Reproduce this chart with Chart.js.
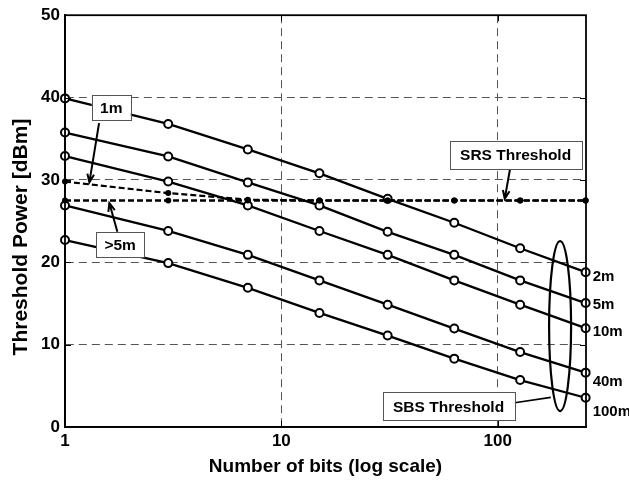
<!DOCTYPE html>
<html>
<head>
<meta charset="utf-8">
<style>
  html, body { margin: 0; padding: 0; background: #fff; }
  #wrap { width: 629px; height: 480px; position: relative; }
</style>
<script src="https://cdn.jsdelivr.net/npm/chart.js@4.4.1/dist/chart.umd.min.js"></script>
</head>
<body>
<div id="wrap"><canvas id="c"></canvas></div>
<script>
// Number of bits in the word (x axis, log scale)
const bits = [1, 3, 7, 15, 31, 63, 127, 255];

// SBS threshold power [dBm] for each fibre length
const sbs2m   = [39.9, 36.8, 33.7, 30.8, 27.7, 24.8, 21.7, 18.8];
const sbs5m   = [35.75, 32.85, 29.7, 26.9, 23.7, 20.9, 17.8, 15.05];
const sbs10m  = [32.9, 29.8, 26.9, 23.8, 20.9, 17.8, 14.85, 12.0];
const sbs40m  = [26.9, 23.8, 20.9, 17.8, 14.85, 11.95, 9.1, 6.6];
const sbs100m = [22.7, 19.9, 16.9, 13.85, 11.1, 8.3, 5.7, 3.55];

// SRS threshold power [dBm]
const srs1m   = [29.8, 28.4, 27.6, 27.5, 27.5, 27.5, 27.5, 27.5];
const srs5m   = [27.5, 27.5, 27.5, 27.5, 27.5, 27.5, 27.5, 27.5];

const sbsNames = ['2m', '5m', '10m', '40m', '100m'];
const xTicks = [1, 10, 100];
const yTicks = [0, 10, 20, 30, 40, 50];

const FONT = "'Liberation Sans', Arial, Helvetica, sans-serif";
const pts = ys => bits.map((b, i) => ({ x: b, y: ys[i] }));

const sbsStyle = {
  borderColor: '#000', borderWidth: 2.3, pointRadius: 4, pointHoverRadius: 4,
  pointBackgroundColor: '#fff', pointBorderColor: '#000', pointBorderWidth: 2,
  tension: 0, clip: false, fill: false
};
const srsStyle = {
  borderColor: '#000', borderWidth: 2.6, borderDash: [6, 3], pointRadius: 3,
  pointHoverRadius: 3, pointBackgroundColor: '#000', pointBorderColor: '#000',
  pointBorderWidth: 0, tension: 0, clip: false, fill: false
};

const datasets = [
  Object.assign({ label: '1m SRS', data: pts(srs1m) }, srsStyle, { borderWidth: 2.2 }),
  Object.assign({ label: '>5m SRS', data: pts(srs5m) }, srsStyle),
  ...[sbs2m, sbs5m, sbs10m, sbs40m, sbs100m].map((ys, i) =>
    Object.assign({ label: sbsNames[i], data: pts(ys) }, sbsStyle))
];

// Frame, inward tick marks, axis titles, callouts and length labels
const decor = {
  id: 'decor',
  afterDatasetsDraw(chart) {
    const { ctx, chartArea: a, scales: { x, y } } = chart;
    const px = v => x.getPixelForValue(v);
    const py = v => y.getPixelForValue(v);
    ctx.save();

    // inward ticks on all four sides
    ctx.strokeStyle = '#000'; ctx.lineWidth = 1; ctx.setLineDash([]);
    ctx.beginPath();
    xTicks.forEach(v => {
      const X = Math.round(px(v)) + 0.5;
      if (X <= a.left + 1 || X >= a.right - 1) return;
      ctx.moveTo(X, a.bottom); ctx.lineTo(X, a.bottom - 6);
      ctx.moveTo(X, a.top); ctx.lineTo(X, a.top + 6);
    });
    yTicks.forEach(v => {
      const Y = Math.round(py(v)) + 0.5;
      if (Y <= a.top + 1 || Y >= a.bottom - 1) return;
      ctx.moveTo(a.left, Y); ctx.lineTo(a.left + 6, Y);
      ctx.moveTo(a.right, Y); ctx.lineTo(a.right - 6, Y);
    });
    ctx.stroke();

    // plot frame
    ctx.lineWidth = 1.8;
    ctx.strokeRect(a.left, a.top, a.right - a.left, a.bottom - a.top);

    // callout helpers
    const box = (xv, yv, w, h, text) => {
      const cx = px(xv), cy = py(yv);
      ctx.fillStyle = '#fff';
      ctx.fillRect(cx - w / 2, cy - h / 2, w, h);
      ctx.strokeStyle = '#555'; ctx.lineWidth = 1;
      ctx.strokeRect(Math.round(cx - w / 2) + 0.5, Math.round(cy - h / 2) + 0.5, w, h);
      ctx.fillStyle = '#000';
      ctx.font = `bold 15.5px ${FONT}`;
      ctx.textAlign = 'center'; ctx.textBaseline = 'middle';
      ctx.fillText(text, cx, cy + 1);
    };
    const arrow = (x1, y1, x2, y2) => {
      const X1 = px(x1), Y1 = py(y1), X2 = px(x2), Y2 = py(y2);
      const ang = Math.atan2(Y2 - Y1, X2 - X1), L = 9, sp = 0.38;
      ctx.strokeStyle = '#000'; ctx.lineWidth = 2;
      ctx.beginPath();
      ctx.moveTo(X1, Y1); ctx.lineTo(X2, Y2);
      ctx.moveTo(X2 - L * Math.cos(ang - sp), Y2 - L * Math.sin(ang - sp));
      ctx.lineTo(X2, Y2);
      ctx.lineTo(X2 - L * Math.cos(ang + sp), Y2 - L * Math.sin(ang + sp));
      ctx.stroke();
    };

    // "1m" and ">5m" SRS callouts
    arrow(1.437, 36.9, 1.296, 29.7);
    box(1.636, 38.8, 39, 25, '1m');
    arrow(1.746, 23.7, 1.603, 27.2);
    box(1.798, 22.1, 48, 25, '>5m');

    // SRS threshold callout
    arrow(114, 31.3, 107.8, 27.7);
    box(121, 33.0, 132, 28, 'SRS Threshold');

    // SBS threshold ellipse and callout
    ctx.strokeStyle = '#000'; ctx.lineWidth = 2.2;
    ctx.beginPath();
    ctx.ellipse(px(194.3), py(12.26), 11, 85, 0, 0, Math.PI * 2);
    ctx.stroke();
    ctx.lineWidth = 1.6;
    ctx.beginPath();
    ctx.moveTo(px(119.9), py(2.95)); ctx.lineTo(px(176), py(3.6));
    ctx.stroke();
    box(59.3, 2.52, 132, 28, 'SBS Threshold');

    // fibre length labels beside the last SBS points
    const last = bits.length - 1;
    const offs = [5, 2.3, 3.3, 9, 14];
    [sbs2m, sbs5m, sbs10m, sbs40m, sbs100m].forEach((ys, i) => {
      ctx.fillStyle = '#000';
      ctx.font = `bold 15px ${FONT}`;
      ctx.textAlign = 'left'; ctx.textBaseline = 'middle';
      ctx.fillText(sbsNames[i], px(bits[last]) + 7, py(ys[last]) + offs[i]);
    });

    // axis titles
    ctx.fillStyle = '#000';
    ctx.textAlign = 'center'; ctx.textBaseline = 'middle';
    ctx.font = `bold 19px ${FONT}`;
    ctx.fillText('Number of bits (log scale)', (a.left + a.right) / 2, 466.5);
    ctx.save();
    ctx.translate(21, 237);
    ctx.rotate(-Math.PI / 2);
    ctx.font = `bold 21px ${FONT}`;
    ctx.fillText('Threshold Power [dBm]', 0, 0);
    ctx.restore();

    ctx.restore();
  }
};

new Chart(document.getElementById('c'), {
  type: 'line',
  data: { datasets },
  plugins: [decor],
  options: {
    responsive: true,
    maintainAspectRatio: false,
    animation: false,
    events: [],
    layout: { padding: { left: 0, right: 43, top: 14, bottom: 0 } },
    plugins: { legend: { display: false }, tooltip: { enabled: false }, title: { display: false } },
    scales: {
      x: {
        type: 'logarithmic', min: 1, max: 256,
        afterBuildTicks: s => { s.ticks = xTicks.map(v => ({ value: v })); },
        afterFit: s => { s.height = 53; },
        ticks: {
          autoSkip: false, maxRotation: 0, padding: 4, color: '#000',
          font: { family: FONT, size: 17, weight: 'bold' },
          callback: v => String(v)
        },
        grid: {
          drawTicks: false, lineWidth: 1,
          color: c => (c.tick && (c.tick.value === 1)) ? 'rgba(0,0,0,0)' : '#555'
        },
        border: { display: true, color: '#000', width: 1.8, dash: [8, 5] }
      },
      y: {
        type: 'linear', min: 0, max: 50,
        afterBuildTicks: s => { s.ticks = yTicks.map(v => ({ value: v })); },
        afterFit: s => { s.width = 65; },
        ticks: {
          padding: 5, color: '#000',
          font: { family: FONT, size: 17, weight: 'bold' }
        },
        grid: {
          drawTicks: false, lineWidth: 1,
          color: c => (c.tick && (c.tick.value === 0 || c.tick.value === 50)) ? 'rgba(0,0,0,0)' : '#555'
        },
        border: { display: true, color: '#000', width: 1.8, dash: [8, 5] }
      }
    }
  }
});
</script>
</body>
</html>
